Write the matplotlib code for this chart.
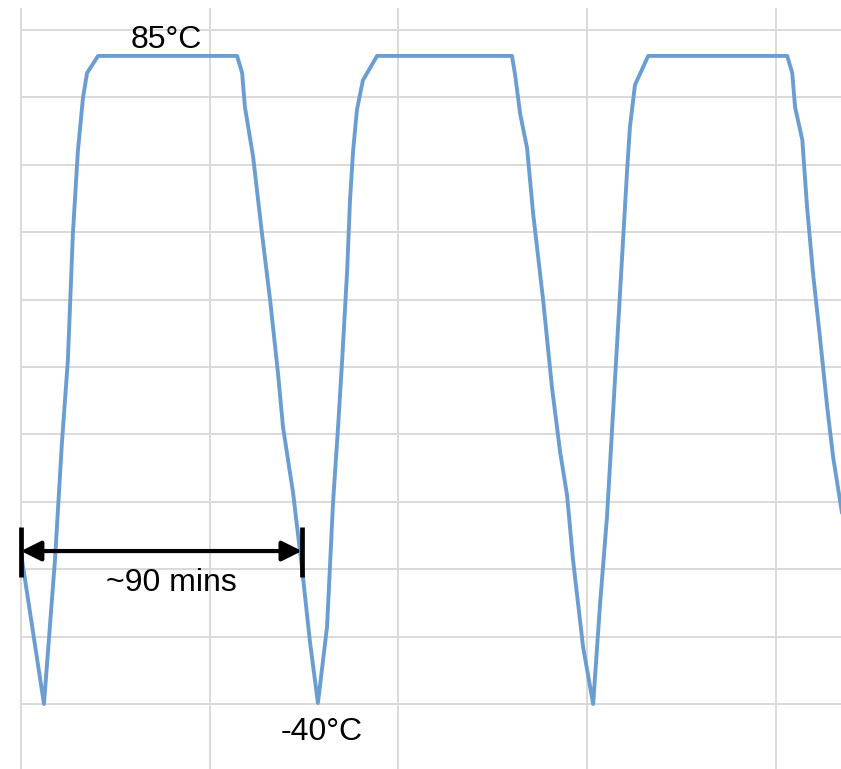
import matplotlib
matplotlib.use("Agg")
import matplotlib.pyplot as plt

# time in minutes, temperature in °C
time_min = [0, 7.3, 10.8, 13.0, 14.9, 16.5, 18.1, 19.7, 21.0, 24.5,
            68.7, 70.3, 71.2, 73.8, 76.6, 79.2, 81.7, 83.3, 86.5, 89.3, 91.9, 94.4,
            97.3, 99.2, 100.8, 102.1, 103.7, 104.6, 105.6, 106.8, 108.7, 113.2,
            156.1, 157.1, 158.7, 160.9, 162.8, 166.0, 168.8, 171.4, 173.6, 175.5, 178.7, 181.9,
            184.1, 186.3, 187.9, 189.5, 191.1, 192.7, 193.6, 195.2, 199.4,
            243.6, 245.2, 246.1, 248.4, 249.9, 251.8, 254.1, 256.3, 258.2, 261.5]
temp_c = [-10.9, -40.0, -12.2, 10.3, 26.3, 50.8, 66.8, 76.9, 81.7, 85.0,
          85.0, 81.7, 75.1, 65.5, 50.8, 37.9, 23.8, 13.4, 0.7, -13.6, -28.2, -39.8,
          -25.1, -1.2, 13.4, 26.3, 43.7, 57.2, 66.8, 74.6, 80.3, 85.0,
          85.0, 81.3, 73.8, 67.2, 54.7, 37.9, 21.1, 8.6, 0.3, -12.2, -29.0, -40.0,
          -20.7, -3.9, 12.8, 29.4, 46.2, 63.0, 71.3, 79.4, 85.0,
          85.0, 81.7, 75.1, 68.8, 55.9, 43.1, 30.2, 17.3, 7.6, -5.0]

x_grid = [0, 60, 120, 180, 240]
y_grid = [-40, -27, -14, -1, 12, 25, 38, 51, 64, 77, 90]

label_max = "85°C"
label_min = "-40°C"
label_period = "~90 mins"
period_start, period_end = 0, 89.3

plt.rcParams['font.family'] = ['Liberation Sans', 'DejaVu Sans']

fig = plt.figure(figsize=(8.41, 7.69), dpi=100)
ax = fig.add_axes([20/841, 0, 1 - 20/841, 1 - 8/769])
ax.set_xlim(-0.32, 260.7)
ax.set_ylim(-52.54, 94.24)

ax.set_xticks(x_grid)
ax.set_yticks(y_grid)
ax.grid(True, color='#d9d9d9', linewidth=1.4)
ax.set_axisbelow(True)
ax.tick_params(length=0, labelbottom=False, labelleft=False)
for s in ax.spines.values():
    s.set_visible(False)

ax.plot(time_min, temp_c, color='#6a9ed2', linewidth=2.8,
        solid_joinstyle='round', solid_capstyle='round')

ax.text(46.1, 88.1, label_max, fontsize=23, ha='center', va='center', color='black')
ax.text(95.7, -45.4, label_min, fontsize=23, ha='center', va='center', color='black')
ax.text(47.7, -16.7, label_period, fontsize=23, ha='center', va='center', color='black')

ax.annotate('', xy=(period_end, -10.5), xytext=(period_start, -10.5),
            arrowprops=dict(arrowstyle='<|-|>', color='black', lw=3,
                            mutation_scale=30, shrinkA=0, shrinkB=0),
            annotation_clip=False)
for xv in (period_start, period_end):
    ax.plot([xv, xv], [-5.9, -15.5], color='black', linewidth=3.4,
            solid_capstyle='butt', clip_on=False)

fig.savefig("out.png", dpi=100)
